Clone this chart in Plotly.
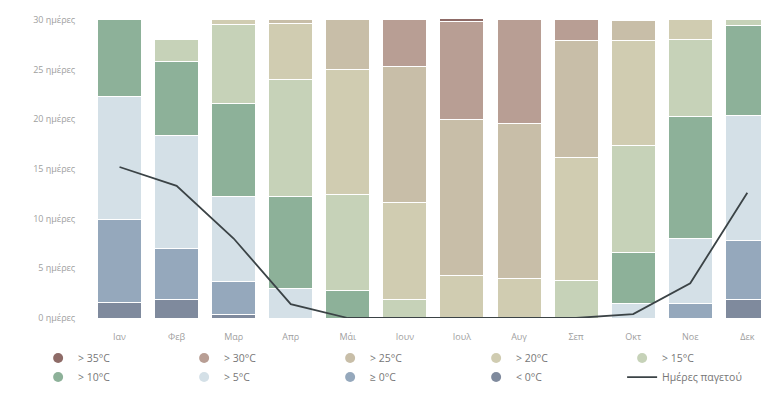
import plotly.graph_objects as go

months = ["Ιαν", "Φεβ", "Μαρ", "Απρ", "Μάι", "Ιουν", "Ιουλ", "Αυγ", "Σεπ", "Οκτ", "Νοε", "Δεκ"]

lt0  = [1.6, 1.9, 0.4, 0, 0, 0, 0, 0, 0, 0, 0, 1.9]
ge0  = [8.3, 5.1, 3.3, 0, 0, 0, 0, 0, 0, 0, 1.5, 5.9]
gt5  = [12.4, 11.4, 8.5, 3.0, 0, 0, 0, 0, 0, 1.5, 6.5, 12.6]
gt10 = [7.7, 7.4, 9.4, 9.2, 2.8, 0, 0, 0, 0, 5.1, 12.3, 9.0]
gt15 = [0, 2.2, 7.9, 11.8, 9.6, 1.9, 0, 0, 3.8, 10.8, 7.7, 0.6]
gt20 = [0, 0, 0.5, 5.6, 12.6, 9.7, 4.3, 4.0, 12.4, 10.5, 2.0, 0]
gt25 = [0, 0, 0, 0.4, 5.0, 13.7, 15.7, 15.6, 11.7, 2.0, 0, 0]
gt30 = [0, 0, 0, 0, 0, 4.7, 9.8, 10.4, 2.1, 0, 0, 0]
gt35 = [0, 0, 0, 0, 0, 0, 0.3, 0, 0, 0, 0, 0]
frost = [15.2, 13.3, 8.0, 1.4, 0, 0, 0, 0, 0, 0.4, 3.5, 12.6]

y_ticks = [0, 5, 10, 15, 20, 25, 30]
y_ticktext = ["0 ημέρες", "5 ημέρες", "10 ημέρες", "15 ημέρες", "20 ημέρες", "25 ημέρες", "30 ημέρες"]

# bottom to top
series = [
    ("< 0°C", lt0, "#7f8a9d", 9),
    ("≥ 0°C", ge0, "#95a8bc", 8),
    ("> 5°C", gt5, "#d4e0e7", 7),
    ("> 10°C", gt10, "#8db199", 6),
    ("> 15°C", gt15, "#c6d2b8", 5),
    ("> 20°C", gt20, "#d0ccb1", 4),
    ("> 25°C", gt25, "#c8bea8", 3),
    ("> 30°C", gt30, "#b89e94", 2),
    ("> 35°C", gt35, "#8e6b67", 1),
]

fig = go.Figure()
for name, vals, color, rank in series:
    fig.add_trace(go.Bar(
        x=months, y=vals, name=name, marker=dict(color=color, line=dict(color="white", width=1)),
        showlegend=False, hoverinfo="skip",
    ))
for name, vals, color, rank in series:
    fig.add_trace(go.Scatter(
        x=[None], y=[None], mode="markers", name=name,
        marker=dict(symbol="circle", size=10, color=color), legendrank=rank,
    ))

fig.add_trace(go.Scatter(
    x=months, y=frost, mode="lines", name="Ημέρες παγετού",
    line=dict(color="#3b4346", width=1.8), legendrank=10,
))

fig.update_layout(
    width=761, height=401,
    barmode="stack", bargap=0.23,
    paper_bgcolor="white", plot_bgcolor="white",
    margin=dict(l=83, r=0, t=9, b=91, autoexpand=False),
    font=dict(family="Open Sans, sans-serif", size=9, color="#999999"),
    xaxis=dict(range=[-0.5, 11.38], showgrid=False, zeroline=False, showline=False,
               ticks="outside", ticklen=10, tickcolor="rgba(0,0,0,0)",
               tickfont=dict(size=9, color="#a0a0a0")),
    yaxis=dict(range=[0, 30.3], tickvals=y_ticks, ticktext=y_ticktext,
               showgrid=False, zeroline=False, showline=False,
               ticks="outside", ticklen=13, tickcolor="rgba(0,0,0,0)",
               tickfont=dict(size=9, color="#a0a0a0")),
    legend=dict(orientation="h", x=-0.078, xanchor="left", y=-0.085, yanchor="top",
                entrywidth=101, entrywidthmode="pixels",
                font=dict(size=10.5, color="#777777"), itemwidth=30,
                traceorder="normal"),
)

fig.write_html("out.html")
